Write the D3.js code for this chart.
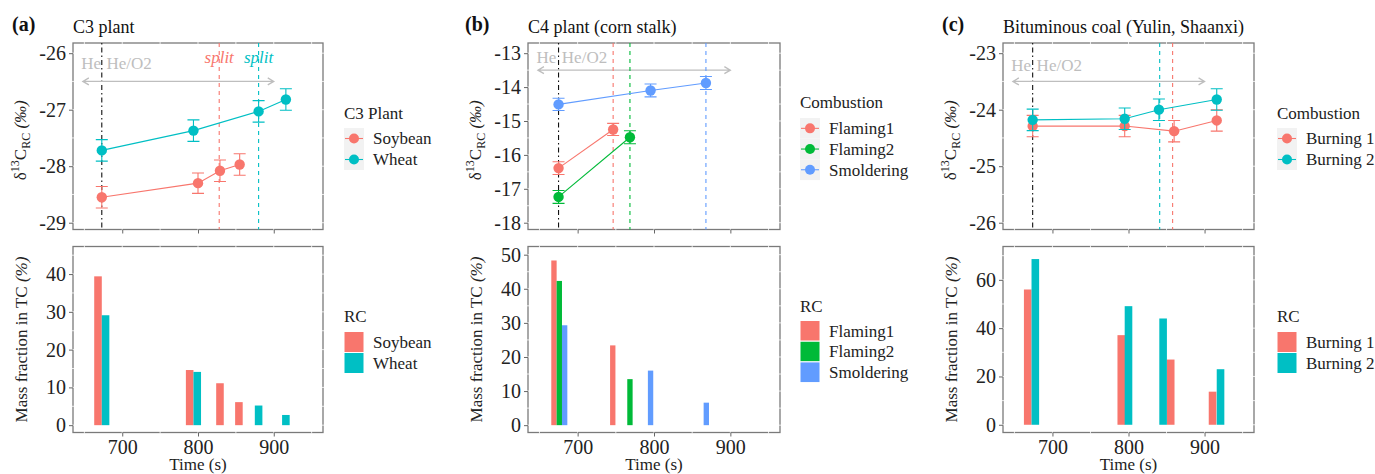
<!DOCTYPE html>
<html>
<head>
<meta charset="utf-8">
<script src="https://cdn.jsdelivr.net/npm/d3@7"></script>
<style>
  body { margin: 0; background: #fff; }
  svg text { font-family: "Liberation Serif", "Times New Roman", serif; }
</style>
</head>
<body>
<svg id="fig" width="1375" height="474"></svg>
<script>
// ---- data ----
const timeTicks = [700, 800, 900];
const timeLimits = [650, 950];
const heArrow = [648, 900];
const heLabels = ["He", "He/O2"];
const heLabelTime = [659, 709];

// (a) C3 plant
const c3Names = ["Soybean", "Wheat"];
const c3Time = [[673, 800, 829, 855], [673, 794, 880, 916]];
const c3Delta = [[-28.55, -28.30, -28.08, -27.97], [-27.72, -27.37, -27.03, -26.82]];
const c3Sd = [[0.19, 0.18, 0.19, 0.19], [0.19, 0.19, 0.19, 0.19]];
const c3Split = [828, 880];
const c3BarTime = [[668, 789, 829, 854], [678, 799, 880, 916]];
const c3Mass = [[39.4, 14.6, 11.1, 6.1], [29.1, 14.1, 5.2, 2.7]];

// (b) C4 plant (corn stalk)
const c4Names = ["Flaming1", "Flaming2", "Smoldering"];
const c4Time = [[675, 746.5], [675, 768.5], [675, 795.5, 868]];
const c4Delta = [[-16.39, -15.25], [-17.24, -15.48], [-14.51, -14.10, -13.88]];
const c4Sd = [[0.19, 0.18], [0.19, 0.19], [0.18, 0.19, 0.19]];
const c4Split = [746.5, 768.5, 868];
const c4BarTime = [[669, 746], [676, 768.5], [683, 795.5, 868.5]];
const c4Mass = [[48.3, 23.4], [42.3, 13.5], [29.3, 16.0, 6.6]];

// (c) Bituminous coal
const coalNames = ["Burning 1", "Burning 2"];
const coalTime = [[674, 795, 860, 916], [674, 795, 840, 916]];
const coalDelta = [[-24.29, -24.29, -24.38, -24.19], [-24.18, -24.16, -24.00, -23.82]];
const coalSd = [[0.19, 0.19, 0.19, 0.19], [0.19, 0.19, 0.19, 0.19]];
const coalSplit = [858, 841];
const coalBarTime = [[667.5, 790.5, 855.5, 910.5], [677.5, 800, 845.5, 921]];
const coalMass = [[56.0, 37.1, 27.0, 13.7], [68.6, 49.1, 44.0, 23.0]];

const hue2 = ["#F8766D", "#00BFC4"];
const hue3 = ["#F8766D", "#00BA38", "#619CFF"];

const svg = d3.select("#fig");

// panels: layout only
const columns = [
  { tag: "(a)", tagX: 12, title: "C3 plant", left: 73, right: 323,
    names: c3Names, time: c3Time, delta: c3Delta, sd: c3Sd, split: c3Split, showSplit: true,
    barTime: c3BarTime, mass: c3Mass, barW: 10, colors: hue2,
    dDomain: [-29.12, -25.82], dTicks: [-29, -28, -27, -26], heY: -26.18, arrowY: -26.5,
    mDomain: [-1.94, 47.3], mTicks: [0, 10, 20, 30, 40],
    legTitle: "C3 Plant", legX: 344, legTopY: 113, legTopKeys: 128, legBotY: 316, legBotKeys: 331.5 },
  { tag: "(b)", tagX: 465, title: "C4 plant (corn stalk)", left: 528, right: 780,
    names: c4Names, time: c4Time, delta: c4Delta, sd: c4Sd, split: c4Split, showSplit: false,
    barTime: c4BarTime, mass: c4Mass, barW: 7, colors: hue3,
    dDomain: [-18.2, -12.7], dTicks: [-18, -17, -16, -15, -14, -13], heY: -13.1, arrowY: -13.5,
    mDomain: [-2.15, 52.4], mTicks: [0, 10, 20, 30, 40, 50],
    legTitle: "Combustion", legX: 800, legTopY: 101.7, legTopKeys: 118, legBotY: 306, legBotKeys: 320.5 },
  { tag: "(c)", tagX: 942, title: "Bituminous coal (Yulin, Shaanxi)", left: 1003, right: 1254,
    names: coalNames, time: coalTime, delta: coalDelta, sd: coalSd, split: coalSplit, showSplit: false,
    barTime: coalBarTime, mass: coalMass, barW: 10, colors: hue2,
    dDomain: [-26.12, -22.82], dTicks: [-26, -25, -24, -23], heY: -23.21, arrowY: -23.5,
    mDomain: [-3.2, 73.8], mTicks: [0, 20, 40, 60],
    legTitle: "Combustion", legX: 1277, legTopY: 113, legTopKeys: 128, legBotY: 316, legBotKeys: 331.5 }
];

const TOP = [43, 229.5];
const BOT = [246.5, 432.5];
const border = "#7a7a7a";

function styleAxis(g, showLabels) {
  g.select(".domain").remove();
  g.selectAll(".tick line").attr("stroke", "#666").attr("stroke-width", 1);
  g.selectAll(".tick text").attr("fill", "#222").style("font-size", "20px");
  if (!showLabels) g.selectAll(".tick text").remove();
}

function frame(g, x, y, left, right, yb, xMinor, yMinor) {
  g.append("rect")
    .attr("x", left).attr("y", yb[0])
    .attr("width", right - left).attr("height", yb[1] - yb[0])
    .attr("fill", "none").attr("stroke", border).attr("stroke-width", 1.3);
  // white grid lines only show where they cross the border
  g.selectAll(null).data(xMinor).join("line")
    .attr("x1", d => x(d)).attr("x2", d => x(d))
    .attr("y1", yb[0] - 1).attr("y2", yb[1] + 1)
    .attr("stroke", "#fff").attr("stroke-width", 0.8);
  g.selectAll(null).data(yMinor).join("line")
    .attr("y1", d => y(d)).attr("y2", d => y(d))
    .attr("x1", left - 1).attr("x2", right + 1)
    .attr("stroke", "#fff").attr("stroke-width", 0.8);
}

function yTitleDelta(g, cx, cy) {
  const t = g.append("text")
    .attr("transform", `translate(${cx + 6},${cy}) rotate(-90)`)
    .attr("text-anchor", "middle").attr("fill", "#222").style("font-size", "17px");
  t.append("tspan").text("δ");
  t.append("tspan").attr("dy", -7).style("font-size", "12px").text("13");
  t.append("tspan").attr("dy", 7).text("C");
  t.append("tspan").attr("dy", 4).style("font-size", "12px").text("RC");
  t.append("tspan").attr("dy", -4).text(" ");
  t.append("tspan").style("font-style", "italic").text("(‰)");
}

function legend(g, c, type) {
  const titleY = type === "line" ? c.legTopY : c.legBotY;
  const keyY = type === "line" ? c.legTopKeys : c.legBotKeys;
  const kh = c.names.length === 3 ? 20.7 : 21;
  g.append("text").attr("x", c.legX).attr("y", titleY + 6)
    .attr("fill", "#222").style("font-size", "17px").text(type === "line" ? c.legTitle : "RC");
  const items = g.selectAll(null).data(c.names).join("g")
    .attr("transform", (d, i) => `translate(${c.legX},${keyY + i * kh})`);
  if (type === "line") {
    items.append("rect").attr("width", 20).attr("height", kh).attr("fill", "#f2f2f2");
    items.append("line").attr("x1", 1).attr("x2", 19).attr("y1", kh / 2).attr("y2", kh / 2)
      .attr("stroke", (d, i) => c.colors[i]).attr("stroke-width", 1.1);
    items.append("circle").attr("cx", 10).attr("cy", kh / 2).attr("r", 5)
      .attr("fill", (d, i) => c.colors[i]);
  } else {
    items.append("rect").attr("width", 20).attr("height", kh)
      .attr("fill", (d, i) => c.colors[i]).attr("stroke", "#fff").attr("stroke-width", 1);
  }
  items.append("text").attr("x", 29).attr("y", kh / 2).attr("dy", "0.35em")
    .attr("fill", "#222").style("font-size", "17px").text(d => d);
}

columns.forEach(c => {
  const g = svg.append("g");
  const x = d3.scaleLinear()
    .domain([timeLimits[0] - 15, timeLimits[1] + 15])
    .range([c.left, c.right]);
  const xMinor = d3.range(650, 951, 50);

  // headings
  g.append("text").attr("x", c.tagX).attr("y", 31)
    .style("font-size", "20px").style("font-weight", "bold").attr("fill", "#111").text(c.tag);
  g.append("text").attr("x", c.left).attr("y", 33)
    .style("font-size", "18px").attr("fill", "#111").text(c.title);

  // ---------- top: delta 13C ----------
  const y = d3.scaleLinear().domain(c.dDomain).range([TOP[1], TOP[0]]);
  const dStep = c.dTicks[1] - c.dTicks[0];
  const yMinorTop = d3.range(c.dTicks[0] - dStep / 2, c.dDomain[1], dStep / 2)
    .filter(v => v > c.dDomain[0] && v < c.dDomain[1]);
  frame(g, x, y, c.left, c.right, TOP, xMinor, yMinorTop);

  g.append("g").attr("transform", `translate(${c.left},0)`)
    .call(d3.axisLeft(y).tickValues(c.dTicks).tickSize(4).tickPadding(3).tickFormat(d => String(d)))
    .call(a => styleAxis(a, true));
  g.append("g").attr("transform", `translate(0,${TOP[1]})`)
    .call(d3.axisBottom(x).tickValues(timeTicks).tickSize(4))
    .call(a => styleAxis(a, false));

  // gas switch marker and arrow
  g.append("line")
    .attr("x1", x(c.time[0][0])).attr("x2", x(c.time[0][0]))
    .attr("y1", TOP[0]).attr("y2", TOP[1])
    .attr("stroke", "#111").attr("stroke-width", 1.1).attr("stroke-dasharray", "1.5,3,5,3");
  g.selectAll(null).data(heLabels).join("text")
    .attr("x", (d, i) => x(heLabelTime[i])).attr("y", y(c.heY)).attr("dy", "0.35em")
    .attr("text-anchor", "middle").attr("fill", "#bebebe").style("font-size", "17px").text(d => d);
  const ax0 = x(heArrow[0]), ax1 = x(heArrow[1]), ay = y(c.arrowY);
  g.append("path")
    .attr("d", `M${ax0},${ay}H${ax1}M${ax0 + 6},${ay - 3.5}L${ax0},${ay}L${ax0 + 6},${ay + 3.5}` +
      `M${ax1 - 6},${ay - 3.5}L${ax1},${ay}L${ax1 - 6},${ay + 3.5}`)
    .attr("fill", "none").attr("stroke", "#bebebe").attr("stroke-width", 1.3);

  // split lines
  g.selectAll(null).data(c.split).join("line")
    .attr("x1", d => x(d)).attr("x2", d => x(d))
    .attr("y1", TOP[0]).attr("y2", TOP[1])
    .attr("stroke", (d, i) => c.colors[i]).attr("stroke-width", 1.1).attr("stroke-dasharray", "4,4");
  if (c.showSplit) {
    g.selectAll(null).data(c.split).join("text")
      .attr("x", d => x(d)).attr("y", y(-26.06)).attr("dy", "0.35em")
      .attr("text-anchor", "middle").style("font-size", "17px").style("font-style", "italic")
      .attr("fill", (d, i) => c.colors[i]).text("split");
  }

  // series lines, error bars and points
  c.names.forEach((name, s) => {
    const pts = c.time[s].map((t, i) => ({ t, v: c.delta[s][i], e: c.sd[s][i] }));
    const col = c.colors[s];
    g.append("path").datum(pts)
      .attr("d", d3.line().x(d => x(d.t)).y(d => y(d.v)))
      .attr("fill", "none").attr("stroke", col).attr("stroke-width", 1.1);
    const eb = g.selectAll(null).data(pts).join("path")
      .attr("d", d => {
        const px = x(d.t), y0 = y(d.v - d.e), y1 = y(d.v + d.e);
        return `M${px - 6},${y0}H${px + 6}M${px},${y0}V${y1}M${px - 6},${y1}H${px + 6}`;
      })
      .attr("fill", "none").attr("stroke", col).attr("stroke-width", 1.1);
    g.selectAll(null).data(pts).join("circle")
      .attr("cx", d => x(d.t)).attr("cy", d => y(d.v)).attr("r", 5.2).attr("fill", col);
  });

  yTitleDelta(g, c.left - 53, (TOP[0] + TOP[1]) / 2 + 4);
  legend(g, c, "line");

  // ---------- bottom: mass fraction ----------
  const ym = d3.scaleLinear().domain(c.mDomain).range([BOT[1], BOT[0]]);
  const mStep = c.mTicks[1] - c.mTicks[0];
  const yMinorBot = d3.range(0, c.mDomain[1], mStep / 2).filter(v => v < c.mDomain[1]);
  frame(g, x, ym, c.left, c.right, BOT, xMinor, yMinorBot);

  g.append("g").attr("transform", `translate(${c.left},0)`)
    .call(d3.axisLeft(ym).tickValues(c.mTicks).tickSize(4).tickPadding(3).tickFormat(d => String(d)))
    .call(a => styleAxis(a, true));
  g.append("g").attr("transform", `translate(0,${BOT[1]})`)
    .call(d3.axisBottom(x).tickValues(timeTicks).tickSize(4).tickPadding(3).tickFormat(d => String(d)))
    .call(a => styleAxis(a, true));

  c.names.forEach((name, s) => {
    const bars = c.barTime[s].map((t, i) => ({ t, v: c.mass[s][i] }));
    g.selectAll(null).data(bars).join("rect")
      .attr("x", d => x(d.t - c.barW / 2))
      .attr("width", d => x(d.t + c.barW / 2) - x(d.t - c.barW / 2))
      .attr("y", d => ym(d.v))
      .attr("height", d => ym(0) - ym(d.v))
      .attr("fill", c.colors[s]);
  });

  g.append("text")
    .attr("transform", `translate(${c.left - 46},${(BOT[0] + BOT[1]) / 2}) rotate(-90)`)
    .attr("text-anchor", "middle").attr("fill", "#222").style("font-size", "17px")
    .call(t => {
      t.append("tspan").text("Mass fraction in TC ");
      t.append("tspan").style("font-style", "italic").text("(%)");
    });
  g.append("text")
    .attr("x", (c.left + c.right) / 2).attr("y", 470)
    .attr("text-anchor", "middle").attr("fill", "#222").style("font-size", "17px").text("Time (s)");
  legend(g, c, "bar");
});
</script>
</body>
</html>
